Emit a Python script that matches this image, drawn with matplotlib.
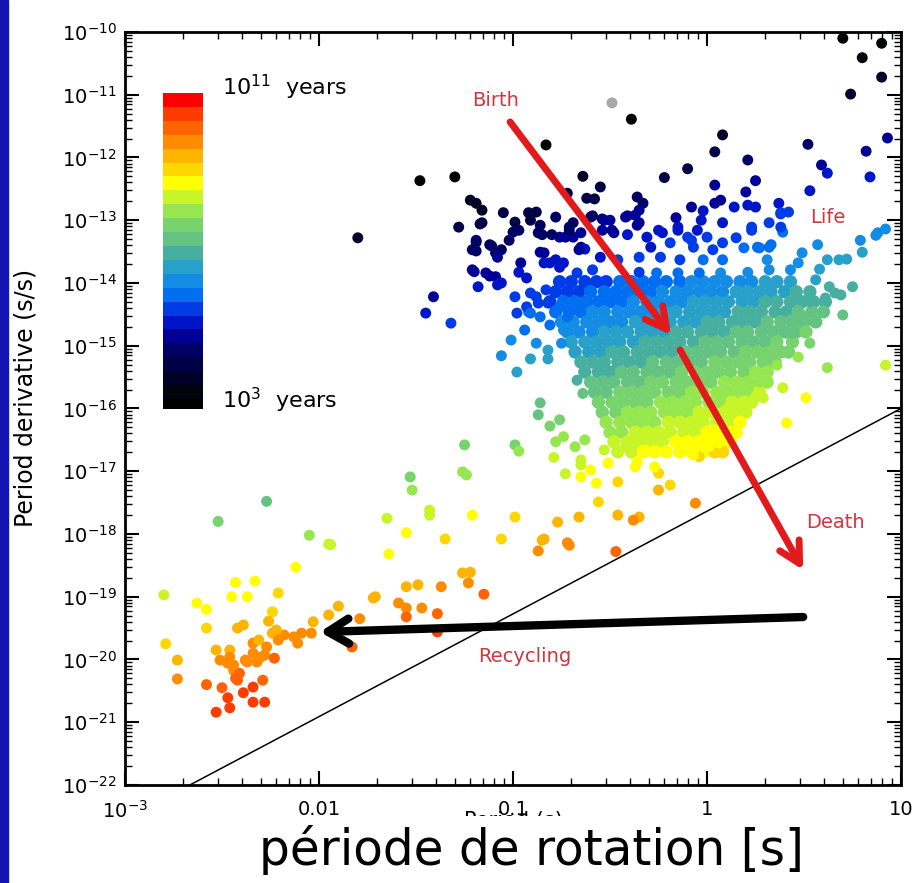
import matplotlib
matplotlib.use("Agg")
import matplotlib.pyplot as plt
import numpy as np
from matplotlib.colors import ListedColormap, Normalize
from matplotlib.patches import Rectangle
from matplotlib.ticker import LogLocator, NullFormatter

# --- data (log10 P [s], log10 Pdot [s/s]) --------------------------------
young_psr = [
    (0.70, -10.10), (0.90, -10.18), (0.80, -10.41), (0.90, -10.72), (0.74, -10.99),
    (0.93, -11.69), (0.82, -11.90), (0.52, -11.79), (0.59, -12.12), (0.62, -12.25),
    (0.84, -12.31), (0.53, -12.53), (0.21, -12.04), (0.25, -12.37), (0.20, -12.55),
    (0.08, -11.64), (0.37, -12.73), (0.42, -12.87), (0.38, -12.90), (0.32, -13.04),
    (0.39, -13.19), (0.23, -13.11), (0.14, -12.79), (0.21, -12.76), (0.25, -12.79),
    (0.07, -12.68), (0.08, -13.04), (0.15, -13.28), (0.19, -13.44), (0.26, -13.43),
    (0.32, -13.43), (0.57, -13.39), (0.79, -13.32), (0.88, -13.20), (0.92, -13.14),
    (0.87, -13.24), (0.80, -13.51), (0.72, -13.62), (0.68, -13.63), (0.62, -13.63),
    (0.58, -13.78), (0.49, -13.52), (0.47, -13.68), (0.31, -13.63), (0.32, -13.79),
    (0.43, -13.79), (0.21, -13.83), (0.56, -13.95), (0.63, -14.06), (0.75, -14.06),
    (0.66, -14.16), (0.69, -14.19), (0.61, -14.24), (0.53, -14.30),
    (-0.49, -11.13), (-0.39, -11.39), (-0.83, -11.80), (0.04, -11.91), (-0.10, -12.18),
    (-0.22, -12.32), (-0.64, -12.30), (-0.55, -12.47), (-0.62, -12.65), (-0.58, -12.66),
    (-0.72, -12.57), (-0.36, -12.63), (-0.33, -12.73), (-0.35, -12.84), (0.04, -12.44),
    (0.04, -12.73), (-0.08, -12.79), (-0.02, -12.85), (-0.03, -13.00), (-0.16, -12.96),
    (-0.41, -12.93), (-0.37, -12.92), (-0.54, -12.98), (-0.50, -13.00), (-0.60, -12.95),
    (-0.71, -13.11), (-0.69, -13.27), (-0.76, -13.27), (-0.65, -13.43), (-0.63, -13.46),
    (-0.54, -13.16), (-0.48, -13.20), (-0.41, -13.23), (-0.36, -13.08), (-0.31, -13.27),
    (-0.23, -13.20), (-0.15, -13.16), (-0.10, -13.27), (-0.05, -13.16), (0.00, -13.27),
    (0.08, -13.36), (-0.29, -13.43), (-0.19, -13.36), (-0.07, -13.43), (0.03, -13.47),
    (-0.74, -13.68), (-0.55, -13.59), (-0.46, -13.63), (-0.35, -13.59), (-0.24, -13.59),
    (-0.14, -13.63), (-0.02, -13.63), (0.08, -13.63), (-0.67, -13.84), (-0.59, -13.79),
    (-0.35, -13.83), (-0.26, -13.84), (-0.15, -13.84), (-0.04, -13.84), (0.07, -13.84),
    (-1.22, -12.68), (-1.19, -12.73), (-1.16, -12.84), (-1.28, -13.11), (-1.16, -13.04),
    (-1.05, -12.88), (-0.99, -13.03), (-0.97, -13.16), (-0.92, -12.88), (-0.88, -12.87),
    (-0.91, -13.00), (-0.86, -13.08), (-0.87, -13.20), (-0.73, -13.27), (-0.71, -13.16),
    (-0.69, -13.04), (-0.78, -12.95), (-0.65, -13.20), (-0.66, -13.47), (-0.59, -12.93),
    (-0.53, -13.00), (-0.49, -13.16), (-0.42, -12.95), (-0.35, -13.04), (-0.25, -13.16),
    (-0.15, -13.11), (-0.08, -13.32), (0.23, -13.16), (0.27, -13.44), (0.33, -13.39),
    (0.38, -13.11), (0.38, -12.88),
    (-1.19, -13.32), (-1.12, -13.39), (-1.09, -13.52), (-1.21, -13.47), (-1.20, -13.82),
    (-1.14, -13.84), (-1.09, -13.90), (-1.06, -14.00), (-1.18, -14.06), (-0.97, -13.83),
    (-0.93, -13.92), (-0.96, -13.68), (-0.99, -14.22), (-0.91, -14.16), (-0.87, -14.32),
    (-0.92, -14.46), (-0.98, -14.48), (-0.83, -14.11), (-0.81, -13.68), (-0.78, -13.63),
    (-0.84, -13.52), (-0.76, -13.75),
    (-1.48, -12.37), (-1.30, -12.31), (-1.00, -13.19), (-1.02, -13.32), (-1.06, -13.47),
    (-1.08, -13.59), (-1.11, -13.41), (-1.19, -13.35), (-1.19, -13.49), (-1.17, -13.06),
    (-0.85, -13.23), (-0.80, -13.23), (-0.86, -13.51), (-0.84, -13.68), (-1.21, -13.79),
    (-1.12, -13.89), (-1.08, -14.03), (-1.41, -14.22), (-1.45, -14.48), (-1.32, -14.64),
    (-0.93, -14.38), (-0.88, -14.22), (-0.82, -14.32), (-0.76, -14.38), (-0.72, -14.54),
    (-0.86, -14.54), (-0.91, -14.48), (-1.80, -13.28),
]

# dense core of the normal pulsar population, one row per Pdot level
core_log_pdot = [-13.98, -14.14, -14.30, -14.46, -14.62, -14.78, -14.94, -15.10,
                 -15.26, -15.42, -15.58, -15.74, -15.90, -16.06, -16.22, -16.38,
                 -16.53, -16.69]
core_log_p = [
    [-0.76, -0.70, -0.63, -0.57, -0.52, -0.45, -0.39, -0.33, -0.27, -0.21, -0.14,
     -0.08, -0.02, 0.04, 0.10, 0.17, 0.23, 0.30, 0.36, 0.43],
    [-0.78, -0.72, -0.66, -0.60, -0.53, -0.47, -0.41, -0.35, -0.29, -0.23, -0.16,
     -0.10, -0.04, 0.02, 0.08, 0.15, 0.21, 0.27, 0.33, 0.40, 0.46, 0.53],
    [-0.81, -0.74, -0.68, -0.62, -0.56, -0.50, -0.44, -0.38, -0.31, -0.25, -0.19,
     -0.13, -0.07, -0.01, 0.05, 0.11, 0.18, 0.24, 0.30, 0.36, 0.43, 0.49, 0.55, 0.61],
    [-0.78, -0.71, -0.65, -0.59, -0.53, -0.46, -0.40, -0.34, -0.28, -0.22, -0.16,
     -0.09, -0.03, 0.03, 0.09, 0.16, 0.22, 0.28, 0.35, 0.41, 0.47, 0.54, 0.60],
    [-0.75, -0.69, -0.62, -0.56, -0.50, -0.44, -0.37, -0.31, -0.25, -0.19, -0.12,
     -0.06, 0.00, 0.06, 0.13, 0.19, 0.25, 0.31, 0.38, 0.44, 0.50, 0.56],
    [-0.72, -0.66, -0.59, -0.53, -0.47, -0.41, -0.34, -0.28, -0.22, -0.16, -0.10,
     -0.03, 0.03, 0.09, 0.15, 0.21, 0.28, 0.34, 0.40, 0.46, 0.51],
    [-0.70, -0.63, -0.57, -0.51, -0.45, -0.38, -0.32, -0.26, -0.20, -0.14, -0.07,
     -0.01, 0.05, 0.11, 0.18, 0.24, 0.30, 0.36, 0.44],
    [-0.68, -0.61, -0.55, -0.49, -0.43, -0.36, -0.30, -0.24, -0.18, -0.11, -0.05,
     0.01, 0.07, 0.14, 0.20, 0.26, 0.32, 0.38, 0.42],
    [-0.65, -0.59, -0.53, -0.46, -0.40, -0.34, -0.28, -0.21, -0.15, -0.09, -0.03,
     0.04, 0.10, 0.16, 0.22, 0.29, 0.35],
    [-0.63, -0.56, -0.50, -0.44, -0.38, -0.31, -0.25, -0.19, -0.13, -0.06, 0.00,
     0.06, 0.12, 0.19, 0.25, 0.31],
    [-0.60, -0.54, -0.48, -0.41, -0.35, -0.29, -0.23, -0.16, -0.10, -0.04, 0.02,
     0.09, 0.15, 0.21, 0.27, 0.31],
    [-0.58, -0.52, -0.45, -0.39, -0.33, -0.27, -0.20, -0.14, -0.08, -0.02, 0.05,
     0.11, 0.17, 0.23, 0.27],
    [-0.56, -0.49, -0.43, -0.37, -0.31, -0.24, -0.18, -0.12, -0.06, 0.01, 0.07,
     0.13, 0.19, 0.23],
    [-0.54, -0.47, -0.41, -0.35, -0.29, -0.22, -0.16, -0.10, -0.04, 0.03, 0.09,
     0.15, 0.20],
    [-0.52, -0.45, -0.39, -0.33, -0.27, -0.20, -0.14, -0.08, -0.02, 0.05, 0.11, 0.17],
    [-0.50, -0.44, -0.37, -0.31, -0.25, -0.19, -0.12, -0.06, 0.00, 0.06, 0.12, 0.15],
    [-0.48, -0.41, -0.35, -0.29, -0.23, -0.16, -0.10, -0.04, 0.02, 0.08, 0.12],
    [-0.46, -0.39, -0.33, -0.27, -0.21, -0.14, -0.08, -0.02, 0.04, 0.08],
]

mid_psr = [
    (0.70, -14.51), (0.62, -15.35), (0.92, -15.31), (0.51, -15.83), (0.41, -16.23),
    (0.39, -15.67), (0.29, -15.83), (0.25, -15.82), (0.49, -14.54), (0.43, -14.59),
    (0.44, -14.80), (0.53, -14.96), (0.47, -15.18), (0.39, -15.10), (0.36, -15.31),
    (0.27, -15.58), (0.11, -15.98), (0.00, -16.07), (0.03, -16.34), (0.03, -16.45),
    (0.06, -16.55), (0.01, -16.61), (-0.04, -16.77),
    (-1.01, -14.91), (-1.06, -15.16), (-0.98, -15.42), (-0.91, -15.21), (-0.88, -14.96),
    (-0.82, -15.07), (-0.94, -14.75), (-0.81, -14.67), (-0.86, -15.91), (-0.87, -16.10),
    (-0.82, -15.21), (-0.75, -14.96), (-0.74, -14.75), (-0.67, -15.55), (-0.64, -15.76),
    (-0.81, -16.28), (-0.76, -16.18), (-0.78, -16.53), (-0.74, -16.45), (-0.79, -16.78),
    (-0.68, -16.61), (-0.63, -16.50), (-0.65, -16.90),
    (-0.99, -16.58), (-0.97, -16.68), (-0.73, -17.04), (-1.25, -16.58), (-0.65, -17.09),
    (-0.57, -17.19), (-0.46, -17.17), (-0.25, -17.30), (-0.07, -16.74), (-0.19, -17.22),
    (-0.56, -17.49), (-0.66, -17.73), (-0.46, -17.70), (-0.35, -17.73), (-0.38, -17.78),
    (-0.06, -17.51), (-0.84, -18.08), (-0.71, -18.18), (-0.47, -18.28), (-0.25, -17.03),
    (-0.27, -16.93), (-0.37, -16.93), (-0.39, -16.71), (-0.36, -16.85), (-0.51, -16.87),
    (-0.60, -16.98), (-0.65, -16.82), (-0.53, -16.66), (-0.42, -16.61), (-0.32, -16.66),
    (-0.77, -17.81), (-0.85, -18.10), (-0.87, -18.27), (-0.72, -18.14), (-0.99, -17.73),
    (-1.06, -18.08),
]

recycled_psr = [
    (-1.53, -17.09), (-1.52, -17.30), (-1.26, -17.01), (-1.24, -17.06), (-1.43, -17.62),
    (-1.43, -17.70), (-1.65, -17.75), (-1.55, -17.98), (-1.35, -18.08), (-1.21, -17.70),
    (-1.64, -18.32), (-1.94, -18.17), (-1.26, -18.62), (-1.22, -18.61), (-1.23, -18.78),
    (-1.15, -18.96), (-1.55, -18.84), (-1.49, -18.81), (-1.37, -18.84), (-1.72, -19.02),
    (-1.59, -19.10), (-1.55, -19.18), (-1.47, -19.18), (-1.55, -19.32), (-1.39, -19.27),
    (-1.90, -19.15), (-1.79, -19.35), (-1.39, -19.56),
    (-2.27, -17.48), (-2.52, -17.80), (-2.05, -18.02), (-1.95, -18.16), (-2.12, -18.53),
    (-2.80, -18.97), (-2.43, -18.77), (-2.33, -18.75), (-2.45, -19.00), (-2.37, -19.00),
    (-2.21, -18.94), (-2.63, -19.10), (-2.58, -19.20), (-2.24, -19.24), (-2.26, -19.39),
    (-1.95, -19.29), (-1.71, -19.00), (-1.83, -19.80),
    (-2.58, -19.50), (-2.42, -19.50), (-2.39, -19.45), (-2.79, -19.75), (-2.73, -20.01),
    (-2.73, -20.31), (-2.53, -19.85), (-2.51, -20.01), (-2.46, -19.85), (-2.47, -20.06),
    (-2.44, -20.17), (-2.41, -20.22), (-2.42, -20.33), (-2.34, -19.74), (-2.31, -19.69),
    (-2.27, -19.80), (-2.34, -19.90), (-2.37, -20.04), (-2.30, -19.96), (-2.28, -19.93),
    (-2.23, -19.98), (-2.24, -19.58), (-2.18, -19.61), (-2.13, -19.64), (-2.09, -19.58),
    (-2.04, -19.58), (-2.11, -19.74), (-2.03, -19.40), (-2.39, -20.53), (-2.34, -20.44),
    (-2.29, -20.33), (-2.50, -20.45), (-2.47, -20.61), (-2.46, -20.77), (-2.53, -20.84),
    (-2.34, -20.68), (-2.28, -20.68), (-2.32, -20.04), (-2.38, -20.01), (-2.46, -19.96),
    (-2.44, -20.09), (-2.43, -20.30), (-2.22, -19.53), (-2.21, -19.69), (-2.58, -20.40),
]

# death line end points
death_line_p = [2.16e-3, 10.0]
death_line_pdot = [1e-22, 1e-16]

x_ticks = [1e-3, 1e-2, 1e-1, 1, 10]
x_tick_labels = [r"$10^{-3}$", "0.01", "0.1", "1", "10"]

# discrete colour table of the age bar (bottom = 10^3 yr, top = 10^11 yr)
age_colors = ["#000000", "#03030c", "#000028", "#000046", "#000064", "#000096",
              "#0014c8", "#003ce6", "#006ef0", "#148ce6", "#28a0c8", "#46afa0",
              "#64c382", "#78d26e", "#96e650", "#c8f528", "#ffff00", "#ffd700",
              "#ffb400", "#ff8c00", "#ff6400", "#ff3c00", "#ff0000"]

LOG_2YR = np.log10(2 * 3.156e7)  # P / (2 Pdot) expressed in years


def split(pairs):
    arr = np.array(pairs)
    return arr[:, 0], arr[:, 1]


def main():
    core = [(p, pd) for pd, row in zip(core_log_pdot, core_log_p) for p in row]

    cmap = ListedColormap(age_colors)
    cmap.set_under("#a8a8a8")
    norm = Normalize(vmin=2.9, vmax=11)

    fig = plt.figure(figsize=(9.17, 8.83), dpi=100)
    fig.patches.append(Rectangle((0, 0), 8 / 917, 1, transform=fig.transFigure,
                                 color="#1414b4", zorder=0))
    ax = fig.add_axes([0.1363, 0.111, 0.8463, 0.8528])
    ax.set_xscale("log")
    ax.set_yscale("log")

    # core drawn a bit larger so neighbouring dots merge like the reference blob
    sc = None
    for group, size in ((core, 92), (young_psr + mid_psr + recycled_psr, 62)):
        lp, lpd = split(group)
        sc = ax.scatter(10 ** lp, 10 ** lpd, c=lp - lpd - LOG_2YR, cmap=cmap,
                        norm=norm, s=size, marker="o", linewidths=0, zorder=2)
    ax.plot(death_line_p, death_line_pdot, color="black", lw=1.1, zorder=3)

    red = "#e31a1c"
    txt = "#d0363f"
    arrow_red = dict(arrowstyle="->,head_length=0.75,head_width=0.4", color=red,
                     lw=5, mutation_scale=20, shrinkA=0, shrinkB=0)
    ax.annotate("", xy=(0.652, 1.48e-15), xytext=(0.0966, 3.68e-12),
                arrowprops=arrow_red, zorder=4)
    ax.annotate("", xy=(3.13, 2.67e-19), xytext=(0.726, 8.55e-16),
                arrowprops=arrow_red, zorder=4)
    ax.annotate("", xy=(0.0101, 2.74e-20), xytext=(3.13, 4.75e-20),
                arrowprops=dict(arrowstyle="->,head_length=0.75,head_width=0.45",
                                color="black", lw=6, mutation_scale=20,
                                shrinkA=0, shrinkB=0), zorder=4)
    ax.text(0.0817, 8.2e-12, "Birth", color=txt, fontsize=14, ha="center", va="center")
    ax.text(4.2, 1.09e-13, "Life", color=txt, fontsize=14, ha="center", va="center")
    ax.text(4.57, 1.5e-18, "Death", color=txt, fontsize=14, ha="center", va="center")
    ax.text(0.115, 1.1e-20, "Recycling", color=txt, fontsize=14, ha="center", va="center")

    ax.set_xlim(1e-3, 10)
    ax.set_ylim(1e-22, 1e-10)
    ax.set_xticks(x_ticks, labels=x_tick_labels)
    ax.set_yticks(10.0 ** np.arange(-22, -9))
    ax.xaxis.set_minor_locator(LogLocator(base=10, subs=np.arange(2, 10), numticks=100))
    ax.yaxis.set_minor_locator(LogLocator(base=10, subs=np.arange(2, 10), numticks=200))
    ax.xaxis.set_minor_formatter(NullFormatter())
    ax.yaxis.set_minor_formatter(NullFormatter())
    ax.tick_params(which="both", direction="in", top=True, right=True, labelsize=14)
    ax.tick_params(which="major", length=10, width=1.5)
    ax.tick_params(which="minor", length=5, width=1)
    ax.tick_params(axis="x", pad=11)
    ax.tick_params(axis="y", pad=6)
    for sp in ax.spines.values():
        sp.set_linewidth(2)

    fig.text(26 / 917, 1 - 398 / 883, "Period derivative (s/s)", rotation=90,
             ha="center", va="center", fontsize=17)

    # age colour bar inset
    cax = fig.add_axes([163 / 917, 1 - 409 / 883, 40 / 917, 316 / 883])
    cb = fig.colorbar(sc, cax=cax)
    cb.outline.set_visible(False)
    cb.set_ticks([])
    cax.set_ylim(3, 11)
    fig.text(222 / 917, 1 - 87 / 883, r"$10^{11}$  years", fontsize=16, va="center")
    fig.text(222 / 917, 1 - 400 / 883, r"$10^{3}$  years", fontsize=16, va="center")

    # original axis title, mostly hidden behind the large French label
    fig.text(0.56, 1 - 811 / 883, "Period (s)", ha="center", va="top", fontsize=15,
             zorder=1)
    fig.text(0.580, 0.037, "période de rotation [s]", fontsize=35, ha="center",
             va="center", zorder=5,
             bbox=dict(boxstyle="square,pad=0.2", fc="white", ec="none"))

    fig.savefig("out.png", dpi=100)


if __name__ == "__main__":
    main()
